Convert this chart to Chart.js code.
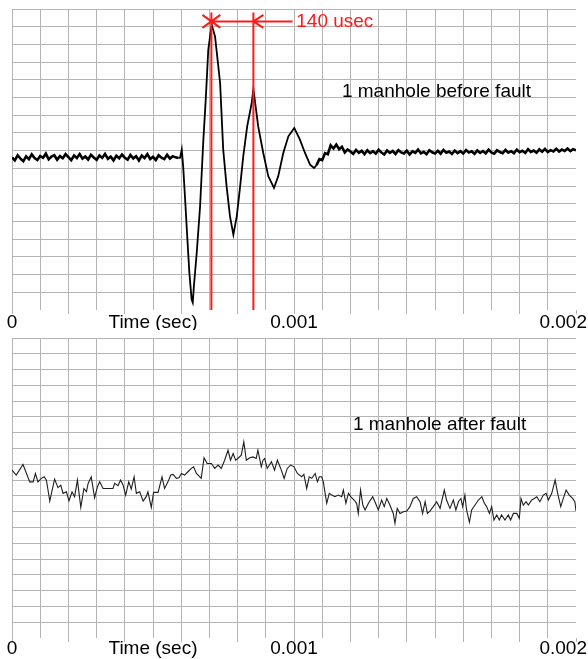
<!DOCTYPE html>
<html>
<head>
<meta charset="utf-8">
<title>Manhole fault traces</title>
<script src="https://cdn.jsdelivr.net/npm/chart.js@4.4.0/dist/chart.umd.min.js"></script>
<style>
    html, body { margin: 0; padding: 0; background: #fff; }
    .panel { position: absolute; left: 0; width: 588px; }
</style>
</head>
<body>
<div class="panel" style="top:0; height:330px;"><canvas id="before-chart"></canvas></div>
<div class="panel" style="top:330px; height:329px;"><canvas id="after-chart"></canvas></div>
<script>
// time in microseconds, amplitude in grid divisions

// x axis tick labels
const tickValues = [0, 500, 1000, 2000];
const tickLabels = ['0', 'Time (sec)', '0.001', '0.002'];

// --- 1 manhole before fault ---
const preTime = [0, 10, 20, 30, 40, 50, 60, 70, 80, 90, 100, 110, 120, 130, 140, 150, 160, 170, 180, 190,
    200, 210, 220, 230, 240, 250, 260, 270, 280, 290, 300, 310, 320, 330, 340, 350, 360, 370, 380, 390,
    400, 410, 420, 430, 440, 450, 460, 470, 480, 490, 500, 510, 520, 530, 540, 550, 560, 570, 580, 590];
const preValue = [8.62, 8.45, 8.74, 8.55, 8.40, 8.68, 8.52, 8.79, 8.58, 8.47,
    8.70, 8.60, 8.83, 8.51, 8.66, 8.74, 8.49, 8.69, 8.57, 8.80,
    8.63, 8.46, 8.72, 8.58, 8.81, 8.55, 8.67, 8.50, 8.76, 8.61,
    8.48, 8.73, 8.59, 8.82, 8.54, 8.66, 8.45, 8.71, 8.57, 8.78,
    8.60, 8.49, 8.75, 8.56, 8.69, 8.44, 8.72, 8.58, 8.80, 8.53,
    8.65, 8.47, 8.74, 8.60, 8.52, 8.77, 8.55, 8.68, 8.62, 8.58];

const pulseTime = [596, 602, 607, 614, 622, 629, 637, 641, 645, 655, 667, 678, 687, 696, 708, 720, 738, 749,
    761, 773, 785, 797, 809, 820, 834, 850, 856, 873, 891, 909, 929, 944, 962, 980, 1001, 1021, 1039,
    1057, 1071];
const pulseValue = [8.60, 9.06, 8.11, 6.23, 3.98, 2.09, 0.59, 0.42, 1.34, 3.22, 5.86, 9.44, 11.88, 14.70, 16.12, 15.45, 12.82, 9.06,
    6.98, 5.29, 4.26, 5.29, 6.98, 8.68, 10.37, 11.69, 12.48, 10.37, 8.87, 7.55, 6.89, 7.55, 8.87, 9.81, 10.28, 9.62, 8.87,
    8.21, 8.02];

const postTime = [1080, 1090, 1100, 1110, 1120, 1130, 1140, 1150, 1160, 1170, 1180, 1190,
    1200, 1210, 1220, 1230, 1240, 1250, 1260, 1270, 1280, 1290, 1300, 1310, 1320, 1330, 1340, 1350,
    1360, 1370, 1380, 1390, 1400, 1410, 1420, 1430, 1440, 1450, 1460, 1470, 1480, 1490, 1500, 1510, 1520, 1530,
    1540, 1550, 1560, 1570, 1580, 1590, 1600, 1610, 1620, 1630, 1640, 1650, 1660, 1670, 1680, 1690, 1700, 1710,
    1720, 1730, 1740, 1750, 1760, 1770, 1780, 1790, 1800, 1810, 1820, 1830, 1840, 1850, 1860, 1870, 1880, 1890,
    1900, 1910, 1920, 1930, 1940, 1950, 1960, 1970, 1980, 1990, 2000];
const postValue = [8.18, 8.52, 8.46, 8.86, 8.80, 9.30, 9.12, 9.34, 9.08, 9.22, 8.90, 9.07,
    8.95, 8.82, 9.04, 8.88, 8.99, 8.80, 9.02, 8.86, 8.97, 8.83,
    9.05, 8.89, 8.78, 9.01, 8.87, 8.98, 8.81, 9.03, 8.90, 8.84,
    9.00, 8.79, 8.96, 8.88, 9.06, 8.85, 8.93, 8.80, 9.02, 8.91,
    8.84, 8.99, 8.83, 9.04, 8.88, 8.95, 8.81, 9.00, 8.86, 8.97,
    8.84, 9.03, 8.89, 8.96, 8.82, 9.01, 8.87, 8.98, 8.85, 9.05,
    8.90, 8.83, 9.02, 8.92, 8.86, 9.04, 8.89, 8.97, 8.85, 9.06,
    8.91, 8.99, 8.87, 9.08, 8.93, 9.01, 8.88, 9.07, 8.94, 9.10,
    8.92, 9.03, 8.96, 9.11, 8.95, 9.06, 8.98, 9.12, 8.97, 9.08, 9.02];

// red cursors on the first two peaks
const markerTime = [707, 856];
const markerTop = 16.8;
const arrowLevel = 16.3;
const arrowEnd = 995;
const usecLabel = '140 usec';
const usecLabelTime = 1008;

// --- 1 manhole after fault ---
const afterTime = [0, 15, 39, 63, 75, 83, 92, 104, 114, 122, 134, 151, 163, 173, 181, 193, 202, 213, 222, 232,
    244, 255, 264, 270, 281, 293, 303, 311, 323, 340, 358, 364, 376, 385, 394, 403, 414, 423, 433, 441,
    453, 465, 476, 482, 494, 502, 518, 532, 541, 553, 563, 571, 583, 592, 601, 612, 624, 636, 644, 654,
    671, 681, 692, 707, 719, 731, 742, 754, 766, 775, 784, 793, 801, 813, 822, 831, 843, 855, 866, 872,
    884, 890, 896, 905, 920, 931, 941, 953, 965, 976, 988, 1000, 1012, 1027, 1035, 1045, 1054, 1063, 1075, 1083,
    1090, 1098, 1104, 1116, 1125, 1134, 1145, 1157, 1169, 1175, 1184, 1193, 1201, 1213, 1222, 1228, 1236, 1244, 1252, 1264,
    1279, 1287, 1299, 1311, 1320, 1329, 1340, 1352, 1358, 1366, 1376, 1388, 1400, 1411, 1423, 1435, 1447, 1456, 1465, 1473,
    1482, 1494, 1506, 1518, 1533, 1541, 1553, 1565, 1574, 1583, 1592, 1598, 1606, 1612, 1622, 1630, 1642, 1654, 1666, 1675,
    1683, 1693, 1701, 1709, 1719, 1728, 1736, 1748, 1760, 1768, 1778, 1790, 1799, 1805, 1813, 1823, 1831, 1843, 1852, 1861,
    1872, 1884, 1894, 1902, 1914, 1926, 1935, 1946, 1955, 1965, 1976, 1988, 1996, 2000];
const afterValue = [10.63, 10.32, 10.99, 9.89, 9.89, 10.42, 9.89, 10.11, 10.21, 10.0, 8.67, 10.06, 9.52, 9.68, 9.16, 9.26, 8.69, 9.26, 8.95, 10.0,
    8.27, 9.47, 9.26, 9.79, 10.21, 8.88, 9.58, 9.89, 9.47, 9.47, 9.47, 9.79, 9.64, 10.0, 9.68, 9.05, 9.89, 9.43, 10.21, 9.16,
    9.26, 8.67, 8.95, 9.26, 8.27, 9.22, 9.22, 10.21, 9.47, 9.89, 10.32, 10.36, 10.11, 10.15, 10.42, 10.32, 10.53, 10.74, 10.84, 10.42,
    10.11, 11.41, 11.05, 11.05, 10.74, 10.95, 10.74, 11.26, 11.89, 11.26, 11.68, 11.26, 11.37, 11.58, 12.42, 11.26, 11.41, 11.47, 11.37, 11.89,
    10.84, 11.26, 11.37, 10.74, 11.16, 10.63, 11.26, 10.74, 10.11, 10.74, 10.95, 10.84, 10.42, 10.21, 10.36, 9.47, 10.21, 10.11, 10.42, 9.89,
    10.21, 10.21, 9.89, 8.53, 9.16, 9.05, 8.95, 9.05, 8.95, 9.37, 8.53, 9.16, 8.95, 8.74, 8.53, 7.89, 9.37, 8.42, 8.11, 8.53,
    8.95, 8.63, 8.11, 8.74, 8.32, 8.84, 8.42, 7.89, 7.26, 8.21, 7.89, 8.0, 8.04, 8.32, 8.84, 8.95, 8.63, 7.89, 8.63, 7.89,
    8.04, 8.32, 8.63, 8.21, 9.37, 8.74, 8.21, 8.74, 8.11, 8.63, 8.84, 8.32, 9.05, 8.11, 7.33, 8.11, 8.42, 8.74, 8.95, 8.53,
    8.32, 7.89, 8.32, 7.47, 7.79, 7.47, 7.79, 7.47, 7.79, 7.47, 7.89, 7.89, 7.58, 8.84, 8.42, 8.63, 8.42, 8.74, 8.84, 8.95,
    8.63, 9.05, 9.16, 8.74, 9.16, 10.0, 9.16, 8.32, 8.84, 9.37, 9.05, 8.84, 8.63, 8.05];

// captions inside the plots: [text, time, level of baseline]
const beforeNote = ['1 manhole before fault', 1170, 12.03];
const afterNote = ['1 manhole after fault', 1209, 13.17];

const GRID = '#b4b4b4';
const RED = '#ff1a1a';
const FONT = '19px "Liberation Sans", Arial, sans-serif';
const CLEAR = 'rgba(0,0,0,0)';

function toPoints(times, values) {
    return times.map((t, i) => ({ x: t, y: values[i] }));
}

// x labels sit on one baseline under the plot, kept inside the canvas
function axisLabels(offset) {
    return {
        id: 'axisLabels',
        afterDraw(chart) {
            const ctx = chart.ctx;
            const xScale = chart.scales.x;
            const base = chart.chartArea.bottom + offset;
            ctx.save();
            ctx.font = FONT;
            ctx.fillStyle = '#000';
            ctx.textAlign = 'left';
            ctx.textBaseline = 'alphabetic';
            tickValues.forEach((v, i) => {
                const w = ctx.measureText(tickLabels[i]).width;
                let left = xScale.getPixelForValue(v) - w / 2;
                left = Math.max(0, Math.min(chart.width - w - 1, left));
                ctx.fillText(tickLabels[i], left, base);
            });
            ctx.restore();
        }
    };
}

function note(item) {
    return {
        id: 'note',
        afterDraw(chart) {
            const ctx = chart.ctx;
            ctx.save();
            ctx.font = FONT;
            ctx.fillStyle = '#000';
            ctx.textBaseline = 'alphabetic';
            ctx.fillText(item[0], chart.scales.x.getPixelForValue(item[1]), chart.scales.y.getPixelForValue(item[2]));
            ctx.restore();
        }
    };
}

const markers = {
    id: 'markers',
    afterDatasetsDraw(chart) {
        const { ctx, scales: { x, y } } = chart;
        const x1 = x.getPixelForValue(markerTime[0]);
        const x2 = x.getPixelForValue(markerTime[1]);
        const top = y.getPixelForValue(markerTop);
        const bottom = chart.chartArea.bottom;
        const ay = y.getPixelForValue(arrowLevel);
        ctx.save();
        ctx.strokeStyle = RED;
        ctx.lineWidth = 2;
        ctx.beginPath();
        ctx.moveTo(x1, top); ctx.lineTo(x1, bottom);
        ctx.moveTo(x2, top); ctx.lineTo(x2, bottom);
        ctx.moveTo(x1, ay); ctx.lineTo(x.getPixelForValue(arrowEnd), ay);
        ctx.moveTo(x1 - 9, ay - 6.5); ctx.lineTo(x1 + 9, ay + 6.5);
        ctx.moveTo(x1 - 9, ay + 6.5); ctx.lineTo(x1 + 9, ay - 6.5);
        ctx.moveTo(x2 + 10, ay - 6.5); ctx.lineTo(x2, ay); ctx.lineTo(x2 + 10, ay + 6.5);
        ctx.stroke();
        ctx.fillStyle = RED;
        ctx.font = FONT;
        ctx.textBaseline = 'middle';
        ctx.fillText(usecLabel, x.getPixelForValue(usecLabelTime), ay);
        ctx.restore();
    }
};

function traceOptions(yMax, padding) {
    return {
        responsive: true,
        maintainAspectRatio: false,
        animation: false,
        layout: { padding: padding },
        plugins: { legend: { display: false }, tooltip: { enabled: false } },
        elements: { point: { radius: 0 }, line: { tension: 0 } },
        scales: {
            x: {
                type: 'linear',
                min: 0,
                max: 2000,
                border: { display: false },
                ticks: { stepSize: 100, display: false },
                grid: {
                    color: c => c.tick.value === 2000 ? CLEAR : GRID,
                    tickColor: c => c.tick.value % 200 === 0 ? GRID : CLEAR,
                    tickLength: 4
                }
            },
            y: {
                min: 0,
                max: yMax,
                border: { display: false },
                ticks: { stepSize: 1, display: false },
                grid: {
                    color: c => c.tick.value === 0 ? CLEAR : GRID,
                    drawTicks: false
                }
            }
        }
    };
}

function renderBeforeChart() {
    const ctx = document.getElementById('before-chart').getContext('2d');
    const last = preTime.length - 1;
    // the noisy baseline is drawn heavier than the clean pulse
    new Chart(ctx, {
        type: 'line',
        data: {
            datasets: [{
                data: toPoints(preTime, preValue),
                borderColor: '#000',
                borderWidth: 2.6
            }, {
                data: toPoints([preTime[last]].concat(pulseTime, [postTime[0]]),
                    [preValue[last]].concat(pulseValue, [postValue[0]])),
                borderColor: '#000',
                borderWidth: 1.8
            }, {
                data: toPoints(postTime, postValue),
                borderColor: '#000',
                borderWidth: 2.6
            }]
        },
        options: traceOptions(17, { left: 12, right: 12, top: 9, bottom: 16 }),
        plugins: [axisLabels(17.5), note(beforeNote), markers]
    });
}

function renderAfterChart() {
    const ctx = document.getElementById('after-chart').getContext('2d');
    new Chart(ctx, {
        type: 'line',
        data: {
            datasets: [{
                data: toPoints(afterTime, afterValue),
                borderColor: '#1e1e1e',
                borderWidth: 1.1
            }]
        },
        options: traceOptions(19, { left: 12, right: 12, top: 8, bottom: 17 }),
        plugins: [axisLabels(15.5), note(afterNote)]
    });
}

renderBeforeChart();
renderAfterChart();
</script>
</body>
</html>
